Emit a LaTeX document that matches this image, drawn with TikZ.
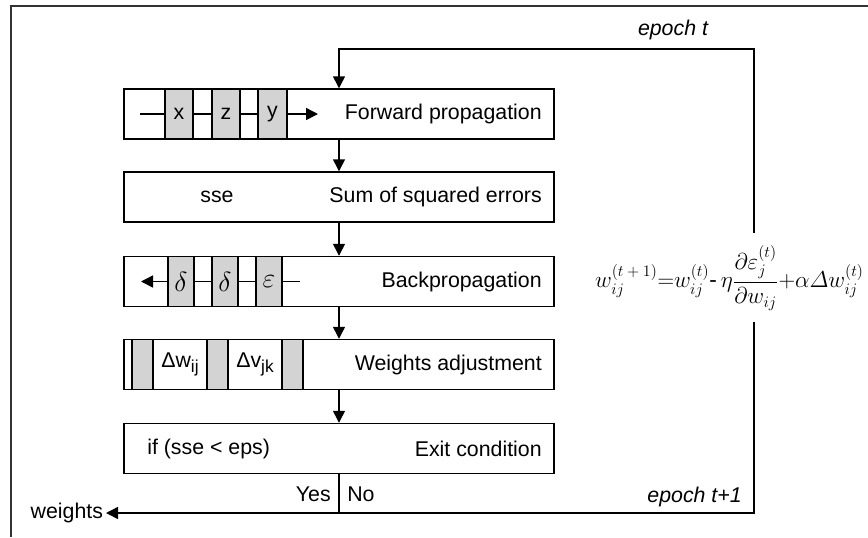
\documentclass[tikz,border=0pt]{standalone}
\usepackage{amsmath}
\usepackage{fontspec}
\setmainfont{Liberation Sans}
\usetikzlibrary{arrows.meta}
\definecolor{cellgray}{RGB}{211,211,211}
\newcommand\sbx[1]{\mbox{\fontsize{11.5}{13}\selectfont$#1$}}
\begin{document}
\begin{tikzpicture}[x=0.75pt,y=-0.75pt,
  font=\fontsize{16}{19}\selectfont,
  box/.style={draw, line width=1.1pt, minimum width=322.5pt, minimum height=37.5pt, inner sep=0pt},
  cell/.style={draw, line width=1.1pt, fill=cellgray, minimum height=37.5pt, inner sep=0pt},
  wcell/.style={draw, line width=1.1pt, fill=white, minimum height=37.5pt, inner sep=0pt},
  lbl/.style={anchor=east, inner sep=0pt},
  ln/.style={line width=1.1pt},
  arr/.style={line width=1.1pt, -{Triangle[length=9pt,width=9pt]}}]
\useasboundingbox (0,0) rectangle (868,537);
% outer frame
\draw[line width=1.3pt, black!80] (11,537) -- (11,6) -- (868,6);
% boxes
\node[box] (fp) at (339,114) {};
\node[box] (ss) at (339,197) {};
\node[box] (bp) at (339,281.5) {};
\node[box] (wa) at (339,364.5) {};
\node[box] (ex) at (339,448.5) {};
% forward propagation
\node[cell, minimum width=21pt] (cx) at (179,114) {x};
\node[cell, minimum width=21pt] (cz) at (226,114) {z};
\node[cell, minimum width=21.75pt] (cy) at (272.5,114) {y};
\coordinate (fin) at (140,114);
\coordinate (fout) at (318,114);
\draw[ln] (fin) -- (cx) (cx) -- (cz) (cz) -- (cy);
\draw[arr] (cy) -- (fout);
\node[lbl] (fpl) at (542,114) {Forward propagation};
% sse
\node (ssev) at (217,197) {sse};
\node[lbl] (ssl) at (542,197) {Sum of squared errors};
% backpropagation
\node[cell, minimum width=19.5pt, font=\fontsize{22}{24}\selectfont] (d1) at (181,281.5) {$\delta$};
\node[cell, minimum width=19.5pt, font=\fontsize{22}{24}\selectfont] (d2) at (225,281.5) {$\delta$};
\node[cell, minimum width=19.5pt, font=\fontsize{22}{24}\selectfont] (ep) at (269,281.5) {$\varepsilon$};
\coordinate (bout) at (141,281.5);
\coordinate (bin) at (300,281.5);
\draw[ln] (bin) -- (ep) (ep) -- (d2) (d2) -- (d1);
\draw[arr] (d1) -- (bout);
\node[lbl] (bpl) at (542,281.5) {Backpropagation};
% weights adjustment
\node[cell, minimum width=15.75pt] (g1) at (142.5,364.5) {};
\node[wcell, minimum width=40.5pt] (dw) at (180,364.5) {Δw\raisebox{-0.5ex}{\fontsize{13}{15}\selectfont ij}};
\node[cell, minimum width=15.75pt] (g2) at (217.5,364.5) {};
\node[wcell, minimum width=40.5pt] (dv) at (255,364.5) {Δv\raisebox{-0.5ex}{\fontsize{13}{15}\selectfont jk}};
\node[cell, minimum width=15.75pt] (g3) at (292.5,364.5) {};
\node[lbl] (wal) at (542,364.5) {Weights adjustment};
% exit condition
\node[anchor=west, inner sep=0pt] (cond) at (147,448.5) {if (sse < eps)};
\node[lbl] (exl) at (542,448.5) {Exit condition};
% arrows between boxes
\draw[arr] (fp) -- (ss);
\draw[arr] (ss) -- (bp);
\draw[arr] (bp) -- (wa);
\draw[arr] (wa) -- (ex);
% formula
\node[inner sep=0pt, anchor=east] (eq) at (864,278) {\fontsize{17}{20}\selectfont $w_{\sbx{ij}}^{\sbx{(t+1)}}{=}w_{\sbx{ij}}^{\sbx{(t)}}\text{-}\,\eta\dfrac{\partial\varepsilon_{\sbx{j}}^{\sbx{(t)}}}{\partial w_{\sbx{ij}}}{+}\alpha\varDelta w_{\sbx{ij}}^{\sbx{(t)}}$};
\coordinate (gtop) at (754,233);
\coordinate (gbot) at (754,322);
% loop
\coordinate (et) at (339,49);
\draw[arr] (gtop) |- (et) -- (fp);
\node (ept) at (673,30) {\itshape epoch t};
\node[anchor=east, inner sep=2pt] (wts) at (106,513) {weights};
\draw[arr] (gbot) |- (wts);
\node[anchor=east, inner sep=0pt] (ept1) at (742,497) {\itshape epoch t+1};
% yes / no
\coordinate (div) at (339,513);
\draw[ln] (ex) -- (div);
\node[anchor=east, inner sep=0pt] (yes) at (331,494) {Yes};
\node[anchor=west, inner sep=0pt] (no) at (347,494) {No};
\end{tikzpicture}
\end{document}
